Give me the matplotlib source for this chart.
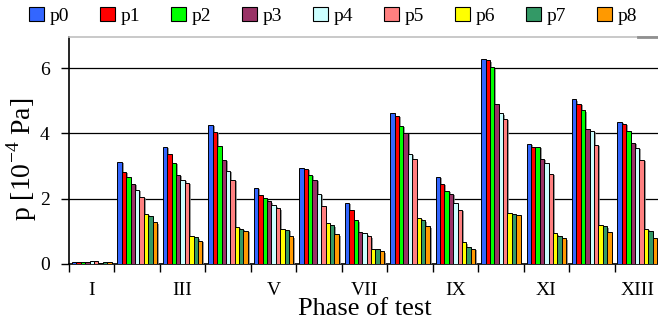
import matplotlib
matplotlib.use("Agg")
import matplotlib.pyplot as plt
import matplotlib.patheffects as pe
from matplotlib.lines import Line2D
import numpy as np

plt.rcParams["font.family"] = ["Liberation Serif", "DejaVu Serif"]
plt.rcParams["mathtext.fontset"] = "custom"
plt.rcParams["mathtext.rm"] = "Liberation Serif"

phases = ["I", "II", "III", "IV", "V", "VI", "VII", "VIII", "IX", "X", "XI", "XII", "XIII"]
series = ["p0", "p1", "p2", "p3", "p4", "p5", "p6", "p7", "p8"]
colors = ["#3366ff", "#ff0000", "#00ff00", "#993366", "#ccffff",
          "#ff8080", "#ffff00", "#339966", "#ff9900"]

# values in 1e-4 Pa, one row per series (p0..p8), one column per phase
p0 = [0.05, 3.13, 3.59, 4.27, 2.33, 2.94, 1.87, 4.61, 2.67, 6.27, 3.68, 5.04, 4.35]
p1 = [0.05, 2.82, 3.37, 4.05, 2.11, 2.91, 1.65, 4.54, 2.45, 6.24, 3.59, 4.91, 4.30]
p2 = [0.05, 2.67, 3.10, 3.62, 2.01, 2.73, 1.34, 4.24, 2.24, 6.02, 3.59, 4.70, 4.08]
p3 = [0.05, 2.45, 2.73, 3.19, 1.92, 2.58, 0.98, 4.02, 2.14, 4.91, 3.22, 4.14, 3.71]
p4 = [0.08, 2.28, 2.58, 2.85, 1.80, 2.14, 0.94, 3.37, 1.87, 4.61, 3.10, 4.08, 3.56]
p5 = [0.08, 2.05, 2.48, 2.58, 1.71, 1.78, 0.85, 3.22, 1.65, 4.45, 2.76, 3.65, 3.19]
p6 = [0.02, 1.53, 0.85, 1.13, 1.07, 1.25, 0.45, 1.41, 0.67, 1.56, 0.94, 1.19, 1.07]
p7 = [0.05, 1.47, 0.82, 1.07, 1.04, 1.19, 0.45, 1.34, 0.51, 1.54, 0.85, 1.16, 1.01]
p8 = [0.05, 1.28, 0.71, 1.01, 0.85, 0.91, 0.39, 1.16, 0.47, 1.50, 0.79, 0.98, 0.80]
values = [p0, p1, p2, p3, p4, p5, p6, p7, p8]

fig = plt.figure(figsize=(6.58, 3.24), dpi=100)
ax = fig.add_axes([69 / 658, 1 - 264 / 324, (660 - 69) / 658, (264 - 37) / 324])

x = np.arange(len(phases))
group_w = 0.87
bw = group_w / len(series)
shadow = [pe.SimplePatchShadow(offset=(1.3, -1.0), shadow_rgbFace="#808080", alpha=0.8),
          pe.Normal()]
for i, (name, vals, c) in enumerate(zip(series, values, colors)):
    pos = x - group_w / 2 + bw * (i + 0.5)
    bars = ax.bar(pos, vals, width=bw, color=c, edgecolor="black",
                  linewidth=0.7, zorder=3, label=name)
    for b in bars:
        b.set_path_effects(shadow)

ax.set_xlim(-0.5, len(phases) - 0.5)
ax.set_ylim(0, 6.95)
ax.set_yticks([0, 2, 4, 6])
ax.yaxis.grid(True, color="black", linewidth=0.9, zorder=0)
ax.set_axisbelow(True)

# group boundaries as ticks, labels on odd phases
ax.set_xticks(np.arange(len(phases) + 1) - 0.5)
ax.set_xticklabels([])
ax.set_xticks(x[::2], minor=True)
ax.set_xticklabels(phases[::2], minor=True)
ax.tick_params(axis="x", which="major", length=6, width=1, direction="out")
ax.tick_params(axis="x", which="minor", length=0, pad=13, labelsize=14)
ax.tick_params(axis="y", length=6, width=1, direction="out", pad=8, labelsize=14)

for s in ["left", "bottom"]:
    ax.spines[s].set_color("black")
    ax.spines[s].set_linewidth(1.2)
ax.spines["right"].set_visible(False)
ax.spines["top"].set_color("#c0c0c0")
ax.spines["top"].set_linewidth(1.2)

ax.set_ylabel(r"p [10$^{\mathregular{-4}}$ Pa]", fontsize=20)
ax.yaxis.set_label_coords(-0.05, 0.46)
ax.set_xlabel("Phase of test", fontsize=19, labelpad=-1)

leg_handles = [plt.Rectangle((0, 0), 1, 1, facecolor=c, edgecolor="black", linewidth=0.8)
               for c in colors]
fig.legend(leg_handles, series, loc="center left", bbox_to_anchor=(29 / 658, 1 - 16 / 324),
           ncol=9, frameon=False, fontsize=14, handlelength=0.75, handleheight=0.75,
           handletextpad=0.3, columnspacing=1.6, borderaxespad=0, borderpad=0)

fig.add_artist(Line2D([638 / 658, 1.0], [1 - 36.5 / 324, 1 - 36.5 / 324],
                      color="#909090", linewidth=2))

fig.savefig("out.png", dpi=100)
